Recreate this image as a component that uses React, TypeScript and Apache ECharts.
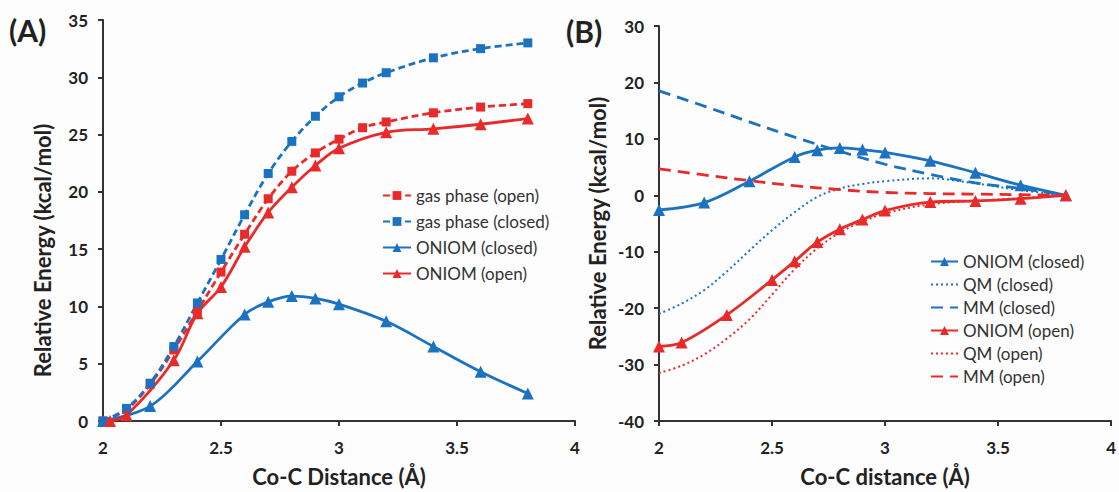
import React, { useEffect, useRef } from "react";
import * as echarts from "echarts";

const BLUE = "#1b72c0";
const RED = "#e92a2b";

// Panel A
const gasOpenX = [2.0, 2.1, 2.2, 2.3, 2.4, 2.5, 2.6, 2.7, 2.8, 2.9, 3.0, 3.1, 3.2, 3.4, 3.6, 3.8];
const gasOpenY = [0, 1.0, 3.2, 6.2, 9.6, 13.0, 16.3, 19.4, 21.8, 23.4, 24.6, 25.6, 26.1, 26.9, 27.4, 27.7];
const gasClosedX = [2.0, 2.1, 2.2, 2.3, 2.4, 2.5, 2.6, 2.7, 2.8, 2.9, 3.0, 3.1, 3.2, 3.4, 3.6, 3.8];
const gasClosedY = [0, 1.1, 3.3, 6.5, 10.3, 14.1, 18.0, 21.6, 24.4, 26.6, 28.3, 29.5, 30.4, 31.7, 32.5, 33.0];
const oniomClosedAX = [2.0, 2.2, 2.4, 2.6, 2.7, 2.8, 2.9, 3.0, 3.2, 3.4, 3.6, 3.8];
const oniomClosedAY = [0, 1.3, 5.2, 9.3, 10.4, 10.9, 10.7, 10.2, 8.7, 6.5, 4.3, 2.4];
const oniomOpenAX = [2.03, 2.1, 2.3, 2.4, 2.5, 2.6, 2.7, 2.8, 2.9, 3.0, 3.2, 3.4, 3.6, 3.8];
const oniomOpenAY = [0, 0.5, 5.3, 9.4, 11.7, 15.2, 18.2, 20.4, 22.3, 23.8, 25.2, 25.5, 25.9, 26.4];

// Panel B
const oniomClosedBX = [2.0, 2.2, 2.4, 2.6, 2.7, 2.8, 2.9, 3.0, 3.2, 3.4, 3.6, 3.8];
const oniomClosedBY = [-2.6, -1.3, 2.5, 6.8, 8.0, 8.4, 8.1, 7.6, 6.1, 4.0, 1.8, 0];
const qmClosedX = [2.0, 2.1, 2.2, 2.3, 2.4, 2.5, 2.6, 2.7, 2.8, 2.9, 3.0, 3.2, 3.4, 3.6, 3.8];
const qmClosedY = [-21.0, -19.2, -16.8, -13.5, -9.8, -6.2, -3.0, -0.3, 1.2, 2.0, 2.5, 3.0, 2.1, 0.9, 0];
const mmClosedX = [2.0, 2.2, 2.4, 2.6, 2.8, 3.0, 3.2, 3.4, 3.6, 3.8];
const mmClosedY = [18.5, 15.8, 13.0, 10.3, 7.8, 5.5, 3.7, 2.2, 1.2, 0];
const oniomOpenBX = [2.0, 2.1, 2.3, 2.5, 2.6, 2.7, 2.8, 2.9, 3.0, 3.2, 3.4, 3.6, 3.8];
const oniomOpenBY = [-26.8, -26.1, -21.2, -15.0, -11.7, -8.3, -6.0, -4.3, -2.7, -1.2, -1.0, -0.6, 0];
const qmOpenX = [2.0, 2.1, 2.2, 2.3, 2.4, 2.5, 2.6, 2.7, 2.8, 2.9, 3.0, 3.2, 3.4, 3.6, 3.8];
const qmOpenY = [-31.5, -30.2, -28.2, -25.4, -22.0, -17.6, -13.1, -9.4, -6.6, -4.7, -3.2, -1.6, -1.0, -0.5, 0];
const mmOpenX = [2.0, 2.2, 2.4, 2.6, 2.8, 3.0, 3.2, 3.4, 3.6, 3.8];
const mmOpenY = [4.7, 3.6, 2.6, 1.7, 1.0, 0.5, 0.3, 0.2, 0.1, 0];

const legendA = ["gas phase (open)", "gas phase (closed)", "ONIOM (closed)", "ONIOM (open)"];
const legendB = ["ONIOM (closed) ", "QM (closed)", "MM (closed)", "ONIOM (open) ", "QM (open)", "MM (open)"];
const noMarker = ["QM (closed)", "MM (closed)", "QM (open)", "MM (open)"];

const pairs = (xs: number[], ys: number[]) => xs.map((x, i) => [x, ys[i]]);

const FONT = "Lato";
const AXIS_COLOR = "#333";
const TEXT = "#222";

function axisX(gridIndex: number, name: string) {
  return {
    type: "value",
    gridIndex,
    min: 2,
    max: 4,
    interval: 0.5,
    name,
    nameLocation: "middle",
    nameGap: 44,
    nameTextStyle: { fontFamily: FONT, fontWeight: "bold", fontSize: 22, color: TEXT },
    axisLine: { show: true, onZero: false, lineStyle: { color: AXIS_COLOR, width: 2 } },
    axisTick: { show: true, inside: false, length: 5, lineStyle: { color: AXIS_COLOR, width: 2 } },
    axisLabel: { fontFamily: FONT, fontWeight: "bold", fontSize: 17, color: TEXT, margin: 18 },
    splitLine: { show: false },
  };
}

function axisY(gridIndex: number, min: number, max: number, interval: number) {
  return {
    type: "value",
    gridIndex,
    min,
    max,
    interval,
    name: "Relative Energy (kcal/mol)",
    nameLocation: "middle",
    nameGap: gridIndex === 0 ? 50 : 51,
    nameRotate: 90,
    nameTextStyle: {
      fontFamily: FONT,
      fontWeight: "bold",
      fontSize: 22,
      color: TEXT,
      padding: gridIndex === 0 ? [0, 60, 0, 0] : 0,
    },
    axisLine: { show: true, onZero: false, lineStyle: { color: AXIS_COLOR, width: 2 } },
    axisTick: { show: true, inside: false, length: 5, lineStyle: { color: AXIS_COLOR, width: 2 } },
    axisLabel: { fontFamily: FONT, fontWeight: "bold", fontSize: 17, color: TEXT, margin: 15 },
    splitLine: { show: false },
  };
}

function line(
  name: string,
  xi: number,
  data: number[][],
  color: string,
  type: any,
  symbol: string,
  symbolSize: number,
  width = 2.8
) {
  return {
    type: "line",
    name,
    xAxisIndex: xi,
    yAxisIndex: xi,
    data,
    smooth: 0.35,
    symbol: symbol === "none" ? "circle" : symbol,
    symbolSize,
    showSymbol: symbol !== "none",
    itemStyle: { color },
    lineStyle: { color, width, type, cap: "butt" },
    emphasis: { disabled: true },
  };
}

export default function App() {
  const ref = useRef<HTMLDivElement>(null);
  useEffect(() => {
    if (!ref.current) return;
    const chart = echarts.init(ref.current, undefined, { renderer: "svg" });
    const legendText = { fontFamily: FONT, fontSize: 17, color: "#333" };
    const legendData = (names: string[]) =>
      names.map((n) => (noMarker.includes(n) ? { name: n, itemStyle: { opacity: 0 } } : { name: n }));
    chart.setOption({
      animation: false,
      backgroundColor: "#fdfdfd",
      grid: [
        { left: 103, right: 544, top: 20, bottom: 69 },
        { left: 659, right: 1, top: 26, bottom: 69 },
      ],
      xAxis: [axisX(0, "Co-C Distance (Å)"), axisX(1, "Co-C distance (Å)")],
      yAxis: [axisY(0, 0, 35, 5), axisY(1, -40, 30, 10)],
      legend: [
        {
          data: legendData(legendA),
          orient: "vertical",
          left: 377,
          top: 182,
          itemWidth: 28,
          itemHeight: 11,
          itemGap: 9,
          textStyle: legendText,
          selectedMode: false,
        },
        {
          data: legendData(legendB),
          orient: "vertical",
          left: 925,
          top: 248,
          itemWidth: 27,
          itemHeight: 11,
          itemGap: 6,
          textStyle: legendText,
          selectedMode: false,
        },
      ],
      graphic: [
        { type: "text", left: 9, top: 15, style: { text: "(A)", font: `bold 30px ${FONT}`, fill: TEXT } },
        { type: "text", left: 566, top: 16, style: { text: "(B)", font: `bold 30px ${FONT}`, fill: TEXT } },
      ],
      series: [
        line("gas phase (open)", 0, pairs(gasOpenX, gasOpenY), RED, [7, 4], "rect", 9),
        line("gas phase (closed)", 0, pairs(gasClosedX, gasClosedY), BLUE, [7, 4], "rect", 9),
        line("ONIOM (closed)", 0, pairs(oniomClosedAX, oniomClosedAY), BLUE, "solid", "triangle", 12),
        line("ONIOM (open)", 0, pairs(oniomOpenAX, oniomOpenAY), RED, "solid", "triangle", 12),
        line("ONIOM (closed) ", 1, pairs(oniomClosedBX, oniomClosedBY), BLUE, "solid", "triangle", 12),
        line("QM (closed)", 1, pairs(qmClosedX, qmClosedY), BLUE, [2, 3], "none", 0, 2),
        line("MM (closed)", 1, pairs(mmClosedX, mmClosedY), BLUE, [12, 7], "none", 0, 2.8),
        line("ONIOM (open) ", 1, pairs(oniomOpenBX, oniomOpenBY), RED, "solid", "triangle", 12),
        line("QM (open)", 1, pairs(qmOpenX, qmOpenY), RED, [2, 3], "none", 0, 2),
        line("MM (open)", 1, pairs(mmOpenX, mmOpenY), RED, [12, 7], "none", 0, 2.8),
      ],
    });
    return () => chart.dispose();
  }, []);
  return <div ref={ref} style={{ width: 1119, height: 492, position: "absolute", left: 0, top: 0 }} />;
}
